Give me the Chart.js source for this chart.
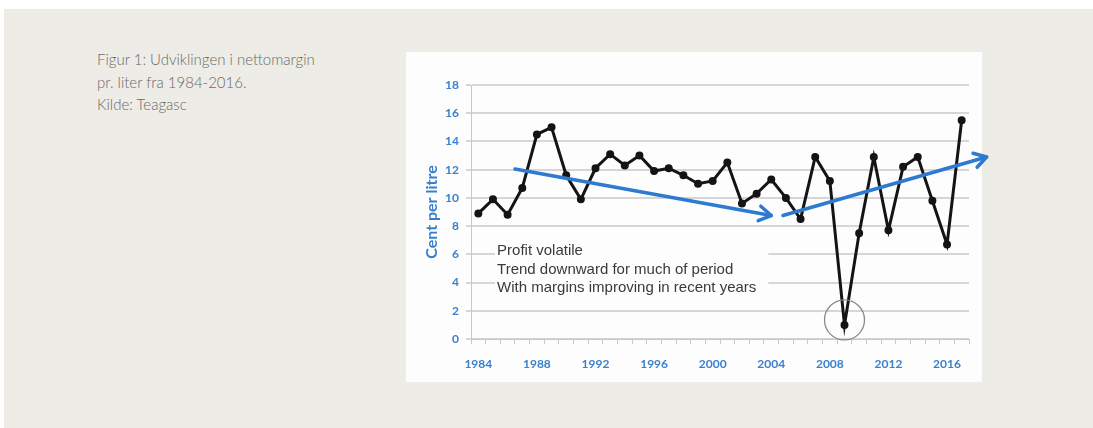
<!DOCTYPE html>
<html>
<head>
<meta charset="utf-8">
<script src="https://cdn.jsdelivr.net/npm/chart.js@4"></script>
<style>
  html, body { margin: 0; padding: 0; width: 1093px; height: 428px; overflow: hidden; background: #ffffff; }
  #panel { position: absolute; left: 4px; top: 9px; right: 0; bottom: 0; background: #edece6; }
  #box { position: absolute; left: 406px; top: 52px; width: 576px; height: 330px; background: #fdfdfd; }
  #caption { position: absolute; left: 97px; top: 48px; font-family: Lato, "Open Sans", sans-serif; font-weight: 300; font-size: 15px; line-height: 22.5px; color: #6a6a6a; letter-spacing: 0; }
  #c { position: absolute; left: 0; top: 0; }
</style>
</head>
<body>
<div id="panel"></div>
<div id="box"></div>
<div id="caption">Figur 1: Udviklingen i nettomargin<br>pr. liter fra 1984-2016.<br>Kilde: Teagasc</div>
<canvas id="c" width="1093" height="428"></canvas>
<script>
const years = [1984,1985,1986,1987,1988,1989,1990,1991,1992,1993,1994,1995,1996,1997,1998,1999,2000,2001,2002,2003,2004,2005,2006,2007,2008,2009,2010,2011,2012,2013,2014,2015,2016,2017];
const centPerLitre = [8.9,9.9,8.8,10.7,14.5,15.0,11.6,9.9,12.1,13.1,12.3,13.0,11.9,12.1,11.6,11.0,11.2,12.5,9.6,10.3,11.3,10.0,8.5,12.9,11.2,1.0,7.5,12.9,7.7,12.2,12.9,9.8,6.7,15.5];
const xTickLabels = ['1984','1988','1992','1996','2000','2004','2008','2012','2016'];
const noteLines = ['Profit volatile','Trend downward for much of period','With margins improving in recent years'];
const yTitle = 'Cent per litre';

const BLUE = '#3a80cc';
const ARROW = '#2d7bd0';

const annotations = {
  id: 'annotations',
  beforeDatasetsDraw(chart) {
    const {ctx, scales: {x, y}} = chart;
    ctx.save();
    const l = x.getPixelForValue(1.14), r = x.getPixelForValue(19.8);
    const t = y.getPixelForValue(7.16), b = y.getPixelForValue(2.98);
    ctx.fillStyle = '#fdfdfd';
    ctx.fillRect(l, t, r - l, b - t);
    ctx.fillStyle = '#3a3a3a';
    ctx.font = '15px "Liberation Sans", Arial, sans-serif';
    ctx.textBaseline = 'middle';
    const tx = x.getPixelForValue(1.28);
    const lineVals = [6.24, 4.89, 3.61];
    noteLines.forEach((s, i) => ctx.fillText(s, tx, y.getPixelForValue(lineVals[i])));
    ctx.restore();
  },
  afterDatasetsDraw(chart) {
    const {ctx, scales: {x, y}} = chart;
    function arrow(i0, v0, i1, v1) {
      const x0 = x.getPixelForValue(i0), y0 = y.getPixelForValue(v0);
      const x1 = x.getPixelForValue(i1), y1 = y.getPixelForValue(v1);
      const ang = Math.atan2(y1 - y0, x1 - x0);
      ctx.save();
      ctx.strokeStyle = ARROW;
      ctx.lineWidth = 3.5;
      ctx.lineCap = 'round';
      ctx.lineJoin = 'round';
      ctx.beginPath();
      ctx.moveTo(x0, y0);
      ctx.lineTo(x1, y1);
      ctx.stroke();
      const hl = 14, ha = 0.55;
      ctx.beginPath();
      ctx.moveTo(x1 - hl * Math.cos(ang - ha), y1 - hl * Math.sin(ang - ha));
      ctx.lineTo(x1, y1);
      ctx.lineTo(x1 - hl * Math.cos(ang + ha), y1 - hl * Math.sin(ang + ha));
      ctx.stroke();
      ctx.restore();
    }
    arrow(2.5, 12.05, 20.0, 8.75);
    arrow(20.8, 8.75, 34.7, 12.9);
    ctx.save();
    ctx.strokeStyle = '#8a8a8a';
    ctx.lineWidth = 1.3;
    ctx.beginPath();
    ctx.arc(x.getPixelForValue(years.indexOf(2009)), y.getPixelForValue(1.35), 20, 0, Math.PI * 2);
    ctx.stroke();
    ctx.restore();
  }
};

const tickFont = { family: 'Lato, "Open Sans", sans-serif', size: 12, weight: 'bold' };

new Chart(document.getElementById('c'), {
  type: 'line',
  data: {
    labels: years.map(String),
    datasets: [{
      data: centPerLitre,
      borderColor: '#141414',
      backgroundColor: '#141414',
      borderWidth: 3,
      pointRadius: 2.5,
      pointHoverRadius: 2.5,
      pointBackgroundColor: '#141414',
      pointBorderColor: '#141414',
      tension: 0,
      fill: false
    }]
  },
  options: {
    responsive: false,
    animation: false,
    devicePixelRatio: 1,
    layout: { padding: { left: 406, right: 124, top: 85, bottom: 46 } },
    plugins: { legend: { display: false }, tooltip: { enabled: false } },
    scales: {
      x: {
        type: 'category',
        offset: true,
        grid: { display: true, drawOnChartArea: false, drawTicks: true, tickLength: 5, color: '#c8c8c8', offset: true },
        border: { color: '#c8c8c8', width: 1 },
        ticks: {
          autoSkip: false,
          maxRotation: 0,
          padding: 13,
          color: BLUE,
          font: tickFont,
          callback: function(val) {
            const lab = this.getLabelForValue(val);
            return xTickLabels.includes(lab) ? lab : '';
          }
        },
        afterFit: s => { s.height = 43; }
      },
      y: {
        min: 0,
        max: 18,
        ticks: { stepSize: 2, padding: 7, color: BLUE, font: tickFont },
        grid: { color: '#d6d6d6', lineWidth: 2, tickLength: 5, drawTicks: true },
        border: { color: '#c8c8c8', width: 1 },
        title: {
          display: true,
          text: yTitle,
          color: BLUE,
          padding: { top: 16, bottom: 0 },
          font: { family: 'Lato, "Open Sans", sans-serif', size: 16, weight: 'bold' }
        },
        afterFit: s => { s.width = 65; }
      }
    }
  },
  plugins: [annotations]
});
</script>
</body>
</html>
